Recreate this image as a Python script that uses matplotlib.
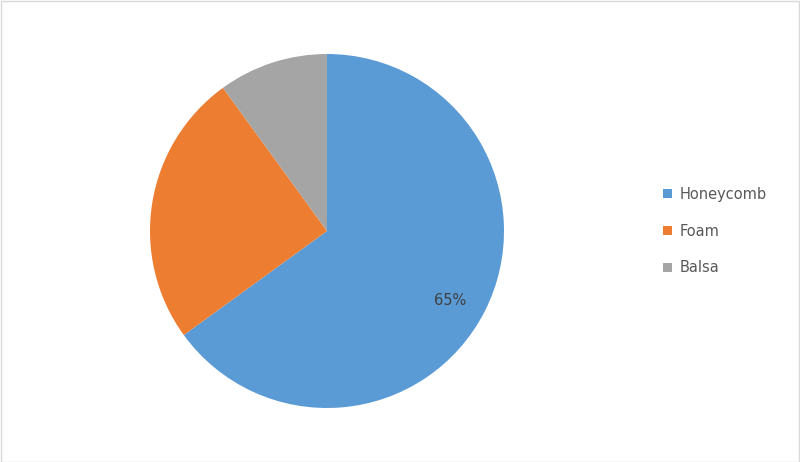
import matplotlib
matplotlib.use("Agg")
import matplotlib.pyplot as plt
from matplotlib.patches import Rectangle
import numpy as np

categories = ["Honeycomb", "Foam", "Balsa"]
values = [65, 25, 10]
colors = ["#5B9BD5", "#ED7D31", "#A5A5A5"]
shown_labels = ["65%", "", ""]

W, H = 800, 462
fig = plt.figure(figsize=(W / 100, H / 100), dpi=100)
fig.patch.set_facecolor("white")

cx, cy, r = 327, 231, 177
ax = fig.add_axes([(cx - r) / W, (H - cy - r) / H, 2 * r / W, 2 * r / H])
wedges, _ = ax.pie(values, colors=colors, startangle=90, counterclock=False,
                   radius=1.0, wedgeprops=dict(linewidth=0))
ax.set_xlim(-1, 1)
ax.set_ylim(-1, 1)
ax.set_aspect("equal")
ax.axis("off")

for w, lab in zip(wedges, shown_labels):
    if lab:
        ang = np.deg2rad((w.theta1 + w.theta2) / 2 - 2.5)
        ax.text(0.8 * np.cos(ang), 0.8 * np.sin(ang), lab, ha="center", va="center",
                fontsize=10.5, color="#404040", family="DejaVu Sans")

leg = fig.legend(wedges, categories, loc="center left", bbox_to_anchor=(650 / W, 0.5),
                 frameon=False, fontsize=10.5, handlelength=0.6, handleheight=0.6,
                 labelspacing=1.5, handletextpad=0.5, labelcolor="#595959")

fig.add_artist(Rectangle((0.5 / W, 0.5 / H), 1 - 1.5 / W, 1 - 1.5 / H, transform=fig.transFigure,
                         fill=False, edgecolor="#D9D9D9", linewidth=1))

fig.savefig("out.png", dpi=100)
